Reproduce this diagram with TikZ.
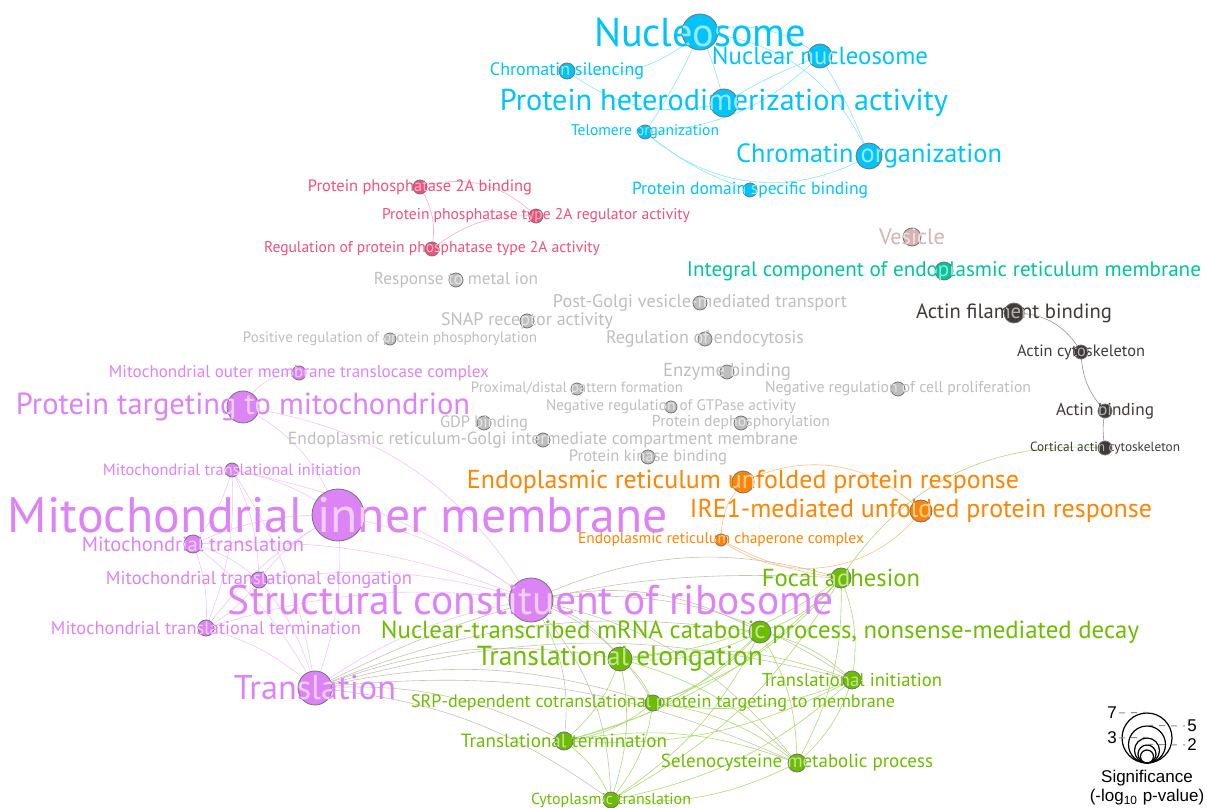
\documentclass[tikz,border=0pt]{standalone}
\usepackage{fontspec}
\usepackage{graphicx}
\setmainfont{PT Sans}
\newfontfamily\legendfont{Liberation Sans}
\pgfdeclarelayer{paper}
\pgfdeclarelayer{links}
\pgfsetlayers{paper,links,main}
\definecolor{chromablue}{HTML}{00C4F8}
\definecolor{phospink}{HTML}{F0507C}
\definecolor{miscgray}{HTML}{BEBEBE}
\definecolor{vesrose}{HTML}{D6B2B2}
\definecolor{ermint}{HTML}{00C49C}
\definecolor{actindark}{HTML}{3F3B37}
\definecolor{uprorange}{HTML}{FF8400}
\definecolor{mitoorchid}{HTML}{DC84F6}
\definecolor{ribogreen}{HTML}{6CBC00}
\definecolor{mixtan}{HTML}{BDB9A2}
\newdimen\pxu
\pxu=0.5pt
% one GO term: dot, label, and the label seen through the dot
\newcommand{\term}[6]{%
  \node[termdot,fill=#4,minimum size=#3pt] (#1) at (#2) {};
  \node[termtext,text=#4] (#1-t) at (#2) {\resizebox{#5\pxu}{!}{#6}};
  \begin{scope}
    \clip (#2) circle[radius=#3];
    \node[termtext,text=white,opacity=.6] at (#2) {\resizebox{#5\pxu}{!}{#6}};
  \end{scope}%
}
\tikzset{
  termdot/.style={circle,draw=black!55,line width=0.4pt,inner sep=0pt},
  termtext/.style={inner sep=0pt,outer sep=0pt},
  bluelink/.style={draw=chromablue!45,line width=0.3pt},
  pinklink/.style={draw=phospink!45,line width=0.3pt},
  darklink/.style={draw=actindark!55,line width=0.3pt},
  orangelink/.style={draw=uprorange!50,line width=0.3pt},
  purplelink/.style={draw=mitoorchid!45,line width=0.3pt},
  greenlink/.style={draw=ribogreen!55,line width=0.3pt},
  tanlink/.style={draw=mixtan!85,line width=0.3pt},
  legring/.style={circle,draw=black,line width=0.6pt,inner sep=0pt},
  leglabel/.style={font=\legendfont\fontsize{8.5}{10}\selectfont,inner sep=1pt},
  legdash/.style={draw=black!45,dashed,line width=0.5pt}
}

\begin{document}
\begin{tikzpicture}[x=0.5pt,y=-0.5pt]
    \useasboundingbox (0,0) rectangle (1207,808);
    \begin{pgfonlayer}{paper}
      \fill[white] (0,0) rectangle (1207,808);
    \end{pgfonlayer}

    % chromatin
    \term{nucl}{700,32}{18}{chromablue}{212}{Nucleosome}
    \term{nnuc}{820,56}{12}{chromablue}{216}{Nuclear nucleosome}
    \term{csil}{567,71}{8}{chromablue}{154}{Chromatin silencing}
    \term{phet}{724,103}{14}{chromablue}{448}{Protein heterodimerization activity}
    \term{telo}{645,132}{7}{chromablue}{148}{Telomere organization}
    \term{corg}{869,156}{13}{chromablue}{266}{Chromatin organization}
    \term{pdsb}{750,190}{7}{chromablue}{236}{Protein domain specific binding}

    % phosphatase
    \term{pp2b}{420,187}{7}{phospink}{224}{Protein phosphatase 2A binding}
    \term{pp2r}{536,216}{7}{phospink}{308}{Protein phosphatase type 2A regulator activity}
    \term{rpp2}{432,249}{7}{phospink}{336}{Regulation of protein phosphatase type 2A activity}

    % single terms
    \term{rmi}{456,280}{7}{miscgray}{164}{Response to metal ion}
    \term{pgv}{700,303}{7}{miscgray}{294}{Post-Golgi vesicle-mediated transport}
    \term{snap}{527,321}{7}{miscgray}{172}{SNAP receptor activity}
    \term{prpp}{390,339}{6}{miscgray}{294}{Positive regulation of protein phosphorylation}
    \term{rend}{705,339}{7}{miscgray}{198}{Regulation of endocytosis}
    \term{enz}{727,372}{7}{miscgray}{128}{Enzyme binding}
    \term{pdpf}{577,389}{6}{miscgray}{212}{Proximal/distal pattern formation}
    \term{nrcp}{898,389}{7}{miscgray}{266}{Negative regulation of cell proliferation}
    \term{nrgt}{671,407}{6}{miscgray}{250}{Negative regulation of GTPase activity}
    \term{gdp}{484,423}{7}{miscgray}{88}{GDP binding}
    \term{pdep}{741,423}{7}{miscgray}{178}{Protein dephosphorylation}
    \term{ergic}{543,440}{7}{miscgray}{510}{Endoplasmic reticulum-Golgi intermediate compartment membrane}
    \term{pkb}{648,457}{7}{miscgray}{158}{Protein kinase binding}
    \term{ves}{912,237}{9}{vesrose}{66}{Vesicle}
    \term{icer}{944,271}{9}{ermint}{514}{Integral component of endoplasmic reticulum membrane}

    % actin
    \term{afb}{1014,313}{10}{actindark}{196}{Actin filament binding}
    \term{acy}{1081,352}{7}{actindark}{128}{Actin cytoskeleton}
    \term{ab}{1105,411}{7}{actindark}{98}{Actin binding}
    \term{cac}{1105,448}{7}{actindark}{150}{Cortical actin cytoskeleton}

    % unfolded protein response
    \term{erupr}{743,482}{11}{uprorange}{552}{Endoplasmic reticulum unfolded protein response}
    \term{ire}{921,511}{11}{uprorange}{462}{IRE1-mediated unfolded protein response}
    \term{ercc}{721,540}{6}{uprorange}{286}{Endoplasmic reticulum chaperone complex}

    % mitochondrion
    \term{omt}{299,373}{7}{mitoorchid}{380}{Mitochondrial outer membrane translocase complex}
    \term{ptm}{243,407}{16}{mitoorchid}{454}{Protein targeting to mitochondrion}
    \term{mti}{232,470}{7}{mitoorchid}{258}{Mitochondrial translational initiation}
    \term{mim}{338,515}{26}{mitoorchid}{660}{Mitochondrial inner membrane}
    \term{mtr}{193,544}{9}{mitoorchid}{222}{Mitochondrial translation}
    \term{mte}{259,580}{8}{mitoorchid}{306}{Mitochondrial translational elongation}
    \term{scr}{531,600}{22}{mitoorchid}{606}{Structural constituent of ribosome}
    \term{mtt}{206,628}{8}{mitoorchid}{310}{Mitochondrial translational termination}
    \term{tr}{315,688}{17}{mitoorchid}{162}{Translation}

    % cytoplasmic translation
    \term{fa}{841,578}{10}{ribogreen}{158}{Focal adhesion}
    \term{nmd}{760,632}{11}{ribogreen}{758}{Nuclear-transcribed mRNA catabolic process, nonsense-mediated decay}
    \term{tel}{620,659}{12}{ribogreen}{286}{Translational elongation}
    \term{ti}{852,680}{9}{ribogreen}{180}{Translational initiation}
    \term{srp}{653,703}{8}{ribogreen}{484}{SRP-dependent cotranslational protein targeting to membrane}
    \term{tt}{564,741}{9}{ribogreen}{206}{Translational termination}
    \term{sel}{797,763}{9}{ribogreen}{272}{Selenocysteine metabolic process}
    \term{ct}{611,800}{8}{ribogreen}{160}{Cytoplasmic translation}

    \begin{pgfonlayer}{links}
      \draw[bluelink] (nucl.center) to[bend left=25] (nnuc.center);
      \draw[bluelink] (nucl.center) to[bend left=25] (csil.center);
      \draw[bluelink] (nucl.center) to[bend left=5] (phet.center);
      \draw[bluelink] (nucl.center) to[bend left=5] (telo.center);
      \draw[bluelink] (nucl.center) to[bend left=30] (corg.center);
      \draw[bluelink] (csil.center) to[bend right=25] (phet.center);
      \draw[bluelink] (phet.center) to[bend left=5] (nnuc.center);
      \draw[bluelink] (telo.center) to[bend right=20] (nnuc.center);
      \draw[bluelink] (telo.center) to[bend right=35] (corg.center);
      \draw[bluelink] (telo.center) to[bend right=10] (pdsb.center);
      \draw[bluelink] (nnuc.center) to[bend left=5] (corg.center);

      \draw[pinklink] (pp2b.center) to[bend left=30] (pp2r.center);
      \draw[pinklink] (pp2b.center) to[bend left=20] (rpp2.center);
      \draw[pinklink] (pp2r.center) to[bend right=20] (rpp2.center);

      \draw[darklink] (afb.center) to[bend left=30] (acy.center);
      \draw[darklink] (acy.center) to[bend right=20] (ab.center);
      \draw[darklink] (ab.center) to[bend right=10] (cac.center);
      \draw[greenlink] (cac.center) to[bend right=30] (fa.center);

      \draw[orangelink] (erupr.center) to[bend left=35] (ire.center);
      \draw[orangelink] (erupr.center) to[bend right=20] (ercc.center);
      \draw[orangelink] (ercc.center) to[bend right=45] (ire.center);
      \draw[orangelink] (ercc.center) to[bend right=10] (fa.center);

      \draw[purplelink] (omt.center) to[bend right=30] (ptm.center);
      \draw[purplelink] (ptm.center) to[bend left=20] (mim.center);
      \draw[purplelink] (ptm.center) to[bend left=25] (scr.center);
      \foreach \a/\b in {mti/mtr,mti/mte,mti/mtt,mti/mim,mti/tr,mti/scr,
                         mtr/mte,mtr/mtt,mtr/mim,mtr/tr,mtr/scr,mte/mtt,
                         mte/mim,mte/tr,mte/scr,mtt/mim,mtt/tr,mtt/scr,
                         mim/tr,mim/scr,tr/scr}
        \draw[purplelink] (\a.center) to[bend left=12] (\b.center);

      \foreach \b in {nmd,tel,ti,srp,tt,sel,ct,fa}{
        \draw[tanlink] (tr.center) to[bend left=15] (\b.center);
        \draw[tanlink] (scr.center) to[bend left=20] (\b.center);
      }

      \foreach \a/\b in {nmd/tel,nmd/ti,nmd/srp,nmd/tt,nmd/sel,nmd/ct,
                         tel/ti,tel/srp,tel/tt,tel/sel,tel/ct,ti/srp,ti/tt,
                         ti/sel,ti/ct,srp/tt,srp/sel,srp/ct,tt/sel,tt/ct,
                         sel/ct,fa/nmd,fa/tel,fa/ti,fa/srp,fa/tt,fa/sel,fa/ct}
        \draw[greenlink] (\a.center) to[bend left=15] (\b.center);
    \end{pgfonlayer}

    % significance legend
    \node[legring,minimum size=25pt] (leg7) at (1147,738) {};
    \node[legring,minimum size=18.5pt] (leg5) at (1147,744.5) {};
    \node[legring,minimum size=12.5pt] (leg3) at (1147,750.5) {};
    \node[legring,minimum size=9pt] (leg2) at (1147,754) {};
    \node[legring,minimum size=6.5pt] (leg1) at (1147,756.5) {};
    \node[leglabel] (l7) at (1112,713) {7};
    \node[leglabel] (l5) at (1192,726) {5};
    \node[leglabel] (l3) at (1112,738) {3};
    \node[leglabel] (l2) at (1192,745) {2};
    \draw[legdash] (l7.east) -- (leg7.north);
    \draw[legdash] (leg5.north) -- (l5.west);
    \draw[legdash] (l3.east) -- (leg3.north);
    \draw[legdash] (leg2.north) -- (l2.west);
    \node[leglabel] (sig) at (1147,778) {Significance};
    \node[leglabel] (sigunit) at (1147,797) {(-log\textsubscript{10} p-value)};
  \end{tikzpicture}
\end{document}
